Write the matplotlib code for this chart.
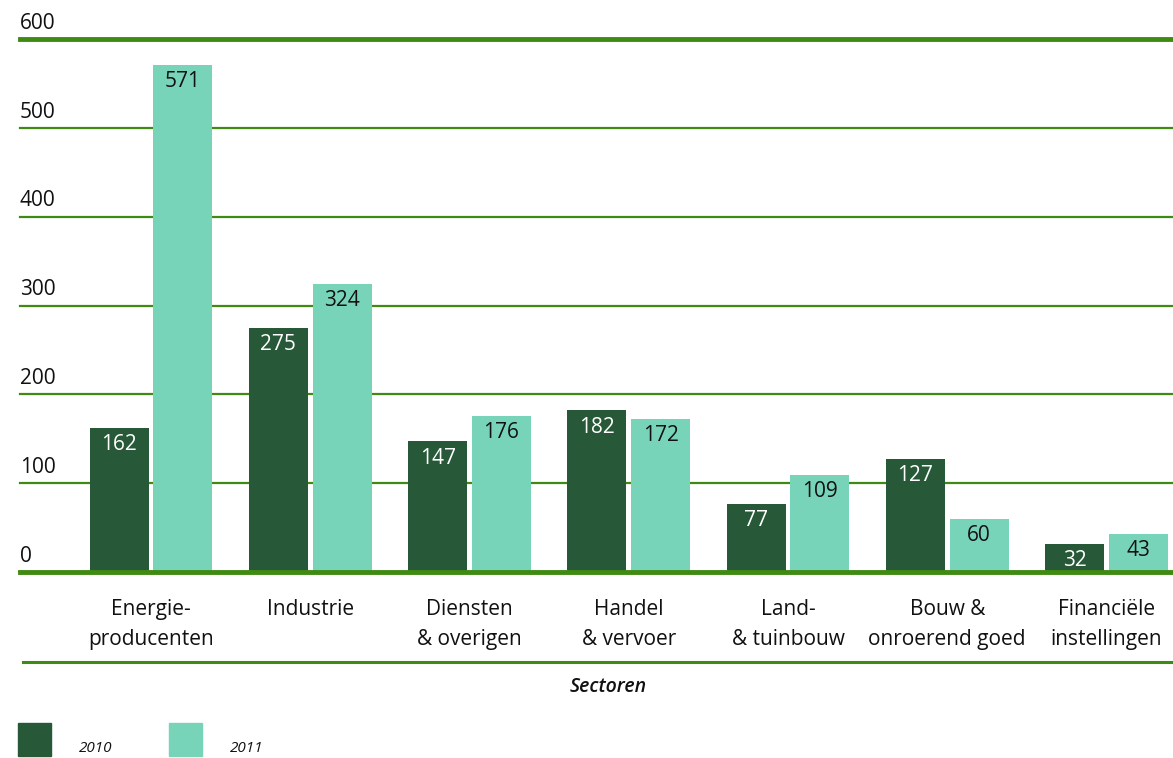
import numpy as np
import matplotlib.pyplot as plt
from matplotlib.patches import Rectangle

# Data
sectors = ['Energie-\nproducenten', 'Industrie', 'Diensten\n& overigen',
           'Handel\n& vervoer', 'Land-\n& tuinbouw', 'Bouw &\nonroerend goed',
           'Financiële\ninstellingen']
v2010 = [162, 275, 147, 182, 77, 127, 32]
v2011 = [571, 324, 176, 172, 109, 60, 43]
years = ['2010', '2011']
yticks = [0, 100, 200, 300, 400, 500, 600]

dark = '#275938'
light = '#77d4b9'
line_green = '#3f8a12'
plt.rcParams['font.family'] = ['Open Sans', 'DejaVu Sans']

W, H = 1173, 758
fig = plt.figure(figsize=(W / 100, H / 100), dpi=100)
ax = fig.add_axes([20 / W, 1 - 572 / H, 1 - 20 / W, (572 - 39) / H])

x = np.arange(len(sectors))
bw = 0.37
off = 0.2
ax.bar(x - off, v2010, bw, color=dark, zorder=3)
ax.bar(x + off, v2011, bw, color=light, zorder=3)

ax.set_xlim(-0.823, 6.418)
ax.set_ylim(0, 600)

for t in yticks:
    lw = 3.5 if t in (0, 600) else 1.6
    ax.axhline(t, color=line_green, lw=lw, zorder=4 if t == 0 else 1, clip_on=False)
    ax.text(0.0, t + 6, str(t), transform=ax.get_yaxis_transform(),
            fontsize=15, ha='left', va='bottom', color='#111111')

for xi, v in zip(x, v2010):
    ax.text(xi - off, v - 7, str(v), ha='center', va='top', fontsize=15, color='white', zorder=5)
for xi, v in zip(x, v2011):
    ax.text(xi + off, v - 7, str(v), ha='center', va='top', fontsize=15, color='#111111', zorder=5)

for xi, s in zip(x, sectors):
    ax.text(xi, -30, s, ha='center', va='top', fontsize=15, linespacing=1.6,
            color='#111111', transform=ax.transData, clip_on=False)

for s in ax.spines.values():
    s.set_visible(False)
ax.set_xticks([])
ax.set_yticks([])

# line under category labels
fig.add_artist(plt.Line2D([23 / W, 1], [1 - 662 / H] * 2, color=line_green, lw=2.2))
fig.text(608 / W, 1 - 687 / H, 'Sectoren', ha='center', va='center', fontsize=14,
         style='italic', fontweight='semibold', color='#111111')

# legend
for px, col, lab in [(18, dark, years[0]), (169, light, years[1])]:
    fig.add_artist(Rectangle((px / W, 1 - 756 / H), 33 / W, 33 / H, color=col,
                             transform=fig.transFigure))
    fig.text((px + 61) / W, 1 - 748 / H, lab, ha='left', va='center', fontsize=11,
             style='italic', color='#111111')

fig.savefig('out.png', dpi=100)
